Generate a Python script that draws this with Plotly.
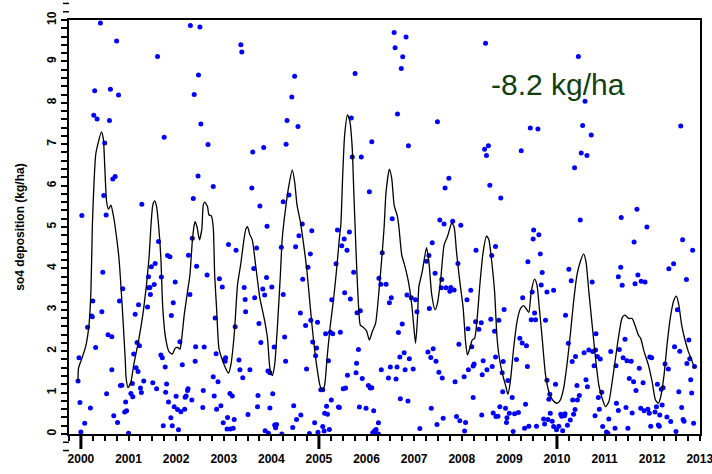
import plotly.graph_objects as go

# ---- data (decimal year, kg/ha) ----
dep_year = [
    2000.41, 2000.75, 2001.61, 2002.30, 2002.50, 2003.36, 2003.38, 2002.47, 2000.29, 2000.62,
    2000.79, 2002.38, 2000.27, 2000.34, 2000.60, 2002.52, 2001.75, 2000.50, 2002.67, 2003.61,
    2003.84, 2000.67, 2000.72, 2002.46, 2002.78, 2003.59, 2000.48, 2001.28, 2002.36, 2004.25,
    2000.02, 2000.53, 2003.76, 2003.91,
    2006.58, 2006.83, 2006.60, 2006.76, 2006.73, 2008.50, 2004.49, 2005.76, 2004.43, 2004.33,
    2004.56, 2005.68, 2006.65, 2007.49, 2004.31, 2006.11, 2006.88, 2005.70, 2005.89, 2008.48,
    2008.56, 2008.52, 2007.73, 2007.65, 2008.59, 2004.37, 2006.06, 2004.65, 2006.54, 2007.54,
    2007.63, 2007.81, 2007.98,
    2010.45, 2010.59, 2009.44, 2009.60, 2010.54, 2010.72, 2012.60, 2009.25, 2010.51, 2010.63,
    2010.37, 2008.82, 2011.68, 2011.35, 2010.49, 2011.89, 2009.51,
    2001.63, 2000.46, 2000.88, 2000.25, 2000.22, 2000.24, 2000.14, 2000.44, 2000.57, 2000.65,
    2000.31, 1999.96, 1999.94, 1999.98, 2000.20, 2000.08, 2000.00, 2000.65, 2000.54, 2000.69,
    2000.77, 2000.81, 2000.83, 2000.86, 2000.94, 2000.92, 2000.96, 2001.00, 2001.05, 2001.09,
    2001.08, 2001.11, 2001.18, 2001.23, 2001.16, 2001.20, 2001.14, 2001.21, 2001.25, 2001.27,
    2001.32, 2001.40, 2001.42, 2001.45, 2001.46, 2001.42, 2001.48, 2001.56, 2001.54, 2001.69,
    2001.68, 2001.71, 2001.77, 2001.51, 2001.59, 2001.78, 2001.80, 2001.84, 2001.96, 2002.03,
    2002.10, 2001.89, 2001.73, 2001.92, 2002.05, 2002.00, 2001.82, 2001.87, 2001.98, 2001.94,
    2001.90, 2002.08, 2002.13, 2002.18, 2002.19, 2002.21, 2002.24, 2002.25, 2002.33, 2002.29,
    2002.26, 2002.34, 2002.43, 2002.40, 2002.65, 2002.57, 2002.56, 2002.59, 2002.41, 2002.78,
    2002.82, 2002.84, 2002.88, 2002.80, 2002.85, 2002.94, 2002.91, 2002.97, 2002.99, 2003.02,
    2003.04, 2003.03, 2003.08, 2003.07, 2003.14, 2003.20, 2003.22, 2003.13, 2003.18, 2003.10,
    2003.26, 2003.24, 2003.32, 2003.34, 2003.40, 2003.43, 2003.45, 2003.46, 2003.51, 2003.55,
    2003.63, 2003.65, 2003.69, 2003.74, 2003.78, 2003.72, 2003.71, 2003.82, 2003.86, 2003.90,
    2004.01, 2003.93, 2003.97, 2003.97, 2004.03, 2004.06, 2003.87, 2003.94, 2004.07, 2004.09,
    2004.11, 2004.22, 2004.21, 2004.25,
    2004.28, 2004.30, 2004.58, 2004.51, 2004.85, 2004.82, 2004.77, 2004.66, 2004.61, 2004.72,
    2004.83, 2004.97, 2004.87, 2004.95, 2004.93, 2004.74, 2005.20, 2004.47, 2004.53, 2004.62,
    2004.45, 2004.80, 2004.91, 2004.98, 2005.08, 2005.11, 2005.22, 2005.04, 2005.08, 2005.12,
    2005.18, 2005.16, 2005.26, 2005.14, 2005.24, 2005.29, 2005.27, 2005.45, 2005.36, 2005.48,
    2005.53, 2005.59, 2005.39, 2005.64, 2005.54, 2005.66, 2005.41, 2005.43, 2005.51, 2005.56,
    2005.60, 2005.73, 2005.80, 2005.87, 2005.83, 2005.79, 2005.78, 2005.91, 2005.85, 2005.99,
    2006.04, 2006.08, 2006.11, 2006.15, 2006.25, 2006.13, 2006.17, 2006.20, 2006.25, 2006.22,
    2006.26, 2006.30, 2006.33, 2006.41, 2006.31, 2006.48, 2006.52, 2006.46, 2006.50, 2006.62,
    2006.64, 2006.67, 2006.75, 2006.70, 2006.79, 2006.81, 2006.90, 2006.98, 2006.71, 2006.87,
    2006.85, 2006.94, 2007.03, 2007.06, 2007.12, 2007.26, 2007.31, 2007.38, 2007.44, 2007.58,
    2007.57, 2007.32, 2007.67, 2007.77, 2007.75, 2007.84, 2007.29, 2007.35, 2007.40, 2007.46,
    2007.52, 2007.59, 2007.36, 2007.48, 2007.61, 2007.86, 2007.92, 2008.11, 2008.13, 2007.94,
    2008.19, 2007.89, 2007.96, 2008.08, 2008.06, 2008.05, 2008.14, 2008.24, 2008.26, 2008.24,
    2008.21, 2008.29, 2008.36, 2008.41, 2008.30, 2008.42, 2008.45, 2008.53, 2008.43, 2008.61,
    2008.69, 2008.71, 2008.64, 2008.71, 2008.63, 2008.66, 2008.72,
    2008.78, 2008.89, 2008.85, 2008.87, 2008.86, 2008.80, 2008.76, 2008.92, 2008.95, 2008.94,
    2009.00, 2008.97, 2009.06, 2009.08, 2009.11, 2009.19, 2009.15, 2009.22, 2009.27, 2009.36,
    2009.28, 2009.38, 2009.34, 2009.32, 2009.41, 2009.39, 2009.50, 2009.62, 2009.65, 2009.48,
    2009.53, 2009.46, 2009.55, 2009.69, 2009.67, 2009.76, 2009.79, 2009.93, 2009.57, 2009.72,
    2009.74, 2009.81, 2009.86, 2009.83, 2009.85, 2009.79, 2009.97, 2009.93, 2009.99, 2009.90,
    2010.04, 2010.08, 2010.10, 2010.12, 2010.16, 2010.17, 2010.22, 2010.28, 2010.35, 2010.38,
    2010.43, 2010.42, 2010.47, 2010.33, 2010.18, 2010.24, 2010.32, 2010.39, 2010.25, 2010.30,
    2010.57, 2010.67, 2010.75, 2010.81, 2010.61, 2010.64, 2010.74, 2010.82, 2010.78, 2010.85,
    2010.91, 2010.94, 2010.87, 2010.89, 2010.80, 2010.96, 2011.04, 2011.07, 2011.09, 2011.13,
    2011.22, 2011.25, 2011.29, 2011.24, 2011.31, 2011.29, 2011.34, 2011.37, 2011.43, 2011.39,
    2011.47, 2011.56, 2011.45, 2011.49, 2011.52, 2011.61, 2011.58, 2011.62, 2011.64, 2011.70,
    2011.77, 2011.85, 2011.66, 2011.73, 2011.76, 2011.83, 2011.91, 2011.94, 2011.81, 2011.95,
    2011.99, 2011.97, 2012.06, 2012.09, 2012.11, 2012.13, 2012.15, 2012.16, 2012.21, 2012.19,
    2012.23, 2012.27, 2012.34, 2012.31, 2012.39, 2012.35, 2012.45, 2012.64, 2012.53, 2012.47,
    2012.58, 2012.56, 2012.62, 2012.50, 2012.65, 2012.67, 2012.72, 2012.77, 2012.73, 2012.79,
    2012.81, 2012.83, 2012.85, 2012.89, 2012.87,
]
dep_value = [
    9.93, 9.49, 9.12, 9.87, 9.83, 9.40, 9.23, 8.67, 8.29, 8.33,
    8.19, 8.20, 7.70, 7.61, 7.57, 7.49, 7.17, 7.03, 6.99, 6.81,
    6.92, 6.16, 6.22, 6.23, 5.98, 5.94, 5.76, 5.55, 5.69, 5.61,
    5.28, 5.29, 5.51, 5.02,
    9.70, 9.59, 9.33, 9.11, 8.83, 9.44, 8.64, 8.71, 8.14, 7.57,
    7.43, 7.63, 7.73, 7.54, 7.00, 7.06, 6.96, 6.69, 6.69, 6.88,
    6.96, 6.73, 6.18, 5.94, 6.01, 5.77, 5.85, 5.07, 5.20, 5.17,
    5.07, 5.14, 5.04,
    9.12, 8.04, 7.39, 7.37, 7.45, 7.22, 7.44, 6.84, 6.79, 6.73,
    6.43, 5.70, 5.43, 5.23, 5.17, 5.00, 4.93,
    4.65, 3.91, 3.51, 3.21, 2.85, 2.83, 2.58, 2.95, 2.40, 2.35,
    2.09, 1.84, 1.28, 0.76, 0.63, 0.26, 0.05, 1.55, 0.97, 0.44,
    0.28, 3.21, 1.17, 1.18, 0.77, 0.53, 0.56, 0.02, 0.98, 0.90,
    1.22, 1.93, 2.21, 2.13, 1.60, 1.51, 2.89, 3.12, 1.11, 1.00,
    1.28, 3.07, 3.53, 3.54, 3.37, 3.80, 4.04, 4.12, 3.61, 3.79,
    1.91, 1.84, 1.62, 1.24, 1.09, 1.01, 1.21, 0.77, 0.66, 0.59,
    0.54, 0.39, 0.20, 0.20, 0.10, 0.91, 4.31, 4.28, 3.67, 3.17,
    2.86, 2.23, 1.67, 0.60, 0.89, 0.92, 1.05, 1.09, 0.82, 3.37,
    4.32, 4.73, 4.05, 1.76, 3.84, 1.05, 0.64, 2.10, 2.11, 1.38,
    2.80, 1.94, 1.26, 0.92, 0.60, 0.68, 3.75, 3.55, 0.27, 1.80,
    1.84, 1.76, 0.40, 0.12, 0.12, 0.14, 0.35, 0.98, 0.92, 4.58,
    4.44, 2.59, 1.79, 1.55, 1.36, 3.54, 3.25, 2.95, 0.47, 1.55,
    4.00, 3.29, 4.49, 2.67, 2.21, 0.93, 0.66, 3.50, 3.36, 3.78,
    3.55, 1.52, 1.48, 0.63, 0.97, 2.10, 0.08, 0.02, 0.22, 0.15,
    0.23, 0.00, 4.51, 3.37,
    2.34, 1.76, 4.79, 4.52, 4.91, 4.35, 4.03, 3.74, 2.92, 2.62,
    2.75, 2.70, 2.22, 2.08, 1.89, 1.57, 1.77, 0.68, 0.35, 0.46,
    0.16, 0.01, 0.27, 0.04, 0.18, 0.07, 0.11, 1.07, 1.07, 0.50,
    0.48, 0.67, 0.82, 2.42, 2.46, 2.42, 3.24, 2.46, 4.11, 4.55,
    4.71, 4.44, 4.93, 4.88, 3.41, 3.26, 0.65, 0.64, 1.09, 1.11,
    1.42, 3.91, 2.93, 2.98, 2.04, 1.71, 1.48, 1.34, 0.65, 0.62,
    1.17, 1.11, 1.12, 0.56, 0.27, 0.03, 0.08, 0.11, 0.00, 0.00,
    3.76, 3.62, 4.38, 3.62, 1.55, 3.17, 3.29, 1.35, 1.62, 1.33,
    1.62, 2.45, 2.66, 1.86, 1.96, 1.55, 1.82, 1.57, 0.85, 0.80,
    3.36, 3.29, 3.24, 2.95, 0.13, 4.17, 4.31, 4.62, 3.88, 3.73,
    3.53, 3.03, 3.53, 3.54, 3.45, 3.48, 1.98, 1.85, 2.06, 1.76,
    1.49, 1.35, 0.62, 0.23, 0.38, 1.26, 4.12, 3.24, 2.54, 2.17,
    3.47, 0.42, 0.32, 0.28, 0.07, 1.38, 1.55, 1.64, 1.69, 0.88,
    2.11, 2.71, 2.53, 2.69, 4.44, 0.46, 1.77, 1.55, 1.43, 2.77,
    2.48, 1.86, 1.63, 4.53, 4.31, 0.51, 0.42,
    2.75, 3.01, 1.48, 1.75, 1.02, 0.66, 0.43, 0.62, 0.39, 0.28,
    0.50, 1.29, 0.88, 0.06, 0.49, 0.52, 1.80, 2.31, 2.20, 2.13,
    3.29, 1.63, 0.72, 0.14, 0.19, 4.16, 4.71, 4.81, 4.35, 3.43,
    2.92, 2.76, 2.76, 3.90, 3.60, 2.75, 3.43, 3.47, 0.19, 0.36,
    0.24, 0.35, 0.50, 0.84, 0.96, 1.30, 1.20, 0.18, 0.10, 0.31,
    0.19, 0.48, 0.43, 0.08, 0.44, 0.49, 0.21, 0.34, 0.48, 0.59,
    0.82, 1.17, 0.93, 0.82, 2.87, 2.19, 1.75, 1.87, 3.98, 3.70,
    1.96, 2.03, 1.99, 2.03, 1.31, 1.14, 3.67, 2.42, 1.65, 1.87,
    1.81, 1.01, 0.88, 0.60, 0.44, 0.18, 0.05, 0.02, 0.36, 1.99,
    0.14, 0.74, 0.57, 1.65, 2.04, 3.80, 4.03, 3.59, 2.29, 1.84,
    1.77, 1.76, 0.64, 0.14, 1.34, 1.26, 0.51, 4.64, 3.63, 3.84,
    3.69, 3.67, 1.05, 1.59, 0.62, 0.56, 0.60, 0.50, 1.24, 1.86,
    1.84, 0.19, 0.53, 0.66, 1.20, 0.22, 0.19, 0.46, 0.70, 1.08,
    1.12, 1.69, 1.57, 0.41, 0.30, 3.99, 4.11, 4.69, 3.00, 2.11,
    2.00, 1.02, 0.64, 0.06, 0.35, 0.31, 3.73, 2.27, 1.70, 1.82,
    1.31, 0.99, 4.44, 1.63, 0.26,
]

smooth_year = [
    1999.94, 1999.95, 2000.01, 2000.10, 2000.17, 2000.21, 2000.24, 2000.27, 2000.31, 2000.36,
    2000.43, 2000.47, 2000.50, 2000.54, 2000.58, 2000.63, 2000.68, 2000.72, 2000.80, 2000.87,
    2000.93, 2000.95, 2000.99, 2001.05, 2001.11, 2001.22, 2001.32, 2001.43, 2001.47, 2001.51,
    2001.55, 2001.59, 2001.635, 2001.68, 2001.72, 2001.78, 2001.85, 2001.92, 2001.98, 2002.03,
    2002.08, 2002.11, 2002.17, 2002.24, 2002.29, 2002.34, 2002.38, 2002.40, 2002.44, 2002.49,
    2002.54, 2002.57, 2002.60, 2002.66, 2002.69, 2002.74, 2002.78, 2002.81, 2002.85, 2002.90,
    2002.97, 2003.04, 2003.10, 2003.15, 2003.22, 2003.29, 2003.36, 2003.41, 2003.46, 2003.50,
    2003.55, 2003.60, 2003.67, 2003.76, 2003.85, 2003.92, 2003.97, 2004.02, 2004.07, 2004.13,
    2004.19, 2004.23, 2004.30, 2004.37, 2004.44, 2004.49, 2004.54, 2004.61, 2004.68, 2004.75,
    2004.82, 2004.89, 2004.96, 2005.02, 2005.07, 2005.12, 2005.17, 2005.24, 2005.31, 2005.38,
    2005.43, 2005.46, 2005.50, 2005.54, 2005.60, 2005.65, 2005.70, 2005.73, 2005.76, 2005.80,
    2005.84, 2005.87, 2005.94, 2006.00, 2006.06, 2006.12, 2006.19, 2006.26, 2006.32, 2006.37,
    2006.41, 2006.48, 2006.53, 2006.58, 2006.65, 2006.68, 2006.74, 2006.80, 2006.88, 2006.95,
    2006.99, 2007.03, 2007.07, 2007.10, 2007.17, 2007.26, 2007.31, 2007.37, 2007.44, 2007.49,
    2007.56, 2007.63, 2007.70, 2007.75, 2007.79, 2007.84, 2007.89, 2007.96, 2008.03, 2008.08,
    2008.12, 2008.17, 2008.22, 2008.27, 2008.33, 2008.38, 2008.45, 2008.52, 2008.57, 2008.63,
    2008.69, 2008.74, 2008.79, 2008.86, 2008.92, 2008.97, 2009.02, 2009.09, 2009.16, 2009.23,
    2009.30, 2009.37, 2009.41, 2009.46, 2009.53, 2009.58, 2009.63, 2009.69, 2009.76, 2009.83,
    2009.91, 2010.00, 2010.07, 2010.14, 2010.21, 2010.28, 2010.35, 2010.42, 2010.49, 2010.56,
    2010.61, 2010.67, 2010.74, 2010.81, 2010.88, 2010.95, 2011.02, 2011.09, 2011.16, 2011.23,
    2011.30, 2011.37, 2011.43, 2011.51, 2011.58, 2011.65, 2011.71, 2011.76, 2011.83, 2011.92,
    2012.00, 2012.07, 2012.13, 2012.18, 2012.25, 2012.32, 2012.39, 2012.46, 2012.51, 2012.56,
    2012.62, 2012.69, 2012.76, 2012.83, 2012.89,
]
smooth_value = [
    1.28, 1.59, 1.79, 2.11, 2.63, 3.44, 5.00, 5.93, 6.74, 7.02,
    7.30, 7.14, 6.50, 5.61, 5.43, 5.53, 5.29, 5.00, 4.24, 3.04,
    1.83, 1.35, 1.12, 1.26, 1.67, 2.31, 3.04, 4.24, 5.00, 5.53,
    5.63, 5.49, 5.00, 4.24, 3.04, 2.31, 1.99, 1.93, 2.07, 2.09,
    2.05, 2.23, 2.87, 3.44, 3.84, 4.65, 5.05, 5.13, 5.00, 4.69,
    4.95, 5.53, 5.60, 5.49, 5.29, 5.27, 5.00, 3.84, 3.04, 2.07,
    1.79, 1.59, 1.47, 1.67, 2.39, 3.60, 4.12, 4.57, 4.93, 5.01,
    4.81, 4.69, 4.08, 3.28, 2.79, 2.31, 1.59, 1.41, 1.67, 2.63,
    3.84, 4.73, 5.45, 6.01, 6.38, 6.09, 5.53, 5.13, 4.57, 3.92,
    3.04, 2.23, 1.59, 1.18, 1.05, 1.18, 1.83, 2.63, 3.28, 4.08,
    4.73, 5.05, 6.26, 7.22, 7.71, 7.55, 6.90, 5.93, 5.00, 3.84,
    2.95, 2.63, 2.57, 2.49, 2.27, 2.47, 2.67, 3.44, 4.24, 5.00,
    5.85, 6.40, 6.17, 5.53, 5.25, 5.00, 4.32, 4.08, 3.68, 3.12,
    2.63, 2.19, 2.79, 3.56, 3.92, 4.50, 4.16, 3.36, 3.00, 3.16,
    3.76, 4.57, 4.77, 4.97, 5.10, 5.00, 4.40, 3.68, 3.04, 2.23,
    1.91, 2.07, 2.27, 2.31, 2.87, 3.60, 4.40, 4.78, 4.69, 4.16,
    3.44, 2.35, 1.83, 1.43, 1.18, 0.96, 1.26, 2.07, 2.71, 3.02,
    3.10, 3.00, 2.94, 3.44, 3.74, 3.60, 3.04, 2.31, 1.43, 1.02,
    0.82, 0.74, 0.82, 1.10, 1.67, 2.39, 3.20, 3.84, 4.16, 4.35,
    4.16, 3.44, 2.63, 1.83, 1.18, 0.86, 0.66, 0.78, 1.26, 1.83,
    2.39, 2.81, 2.87, 2.79, 2.79, 2.59, 2.39, 2.31, 1.99, 1.67,
    1.26, 0.82, 0.74, 0.90, 1.43, 2.23, 2.87, 3.24, 3.33, 3.12,
    2.63, 2.27, 1.99, 1.79, 1.59,
]

year_ticks = list(range(2000, 2014))
thick_years = [2000, 2005, 2010]
stub_levels = [-0.2, -0.4, 10.2, 10.4]
trend_text = "-8.2 kg/ha"
y_title = "so4 deposition (kg/ha)"

X_RANGE = [1999.75, 2013.005]
Y_RANGE = [0, 10]
W, H = 712, 474
ML, MR, MT, MB = 69, 12, 20, 40
plot_w = W - ML - MR
plot_h = H - MT - MB

font_family = "Liberation Sans, Arial, sans-serif"

fig = go.Figure()
fig.add_trace(go.Scatter(
    x=dep_year, y=dep_value, mode="markers",
    marker=dict(color="#0000ff", size=5, line=dict(width=0)),
    showlegend=False, hoverinfo="x+y",
))
fig.add_trace(go.Scatter(
    x=smooth_year, y=smooth_value, mode="lines",
    line=dict(color="black", width=1.3, shape="spline", smoothing=0.6),
    showlegend=False, hoverinfo="skip",
))

shapes = []
for yr in thick_years:
    shapes.append(dict(type="line", xref="x", yref="paper", x0=yr, x1=yr,
                       y0=0, y1=-15 / plot_h, line=dict(color="black", width=3)))
for lv in stub_levels:
    py = (lv - Y_RANGE[0]) / (Y_RANGE[1] - Y_RANGE[0])
    shapes.append(dict(type="line", xref="paper", yref="paper", x0=-6 / plot_w, x1=0,
                       y0=py, y1=py, line=dict(color="black", width=1.5)))

fig.update_layout(
    width=W, height=H,
    margin=dict(l=ML, r=MR, t=MT, b=MB, autoexpand=False),
    paper_bgcolor="white", plot_bgcolor="white",
    font=dict(family=font_family, color="black"),
    shapes=shapes,
    annotations=[dict(
        x=2010.03, y=8.45, xref="x", yref="y", text=trend_text, showarrow=False,
        font=dict(family=font_family, size=30, color="#123f12"),
        xanchor="center", yanchor="middle",
    )],
)
fig.update_xaxes(
    range=X_RANGE, tickmode="array", tickvals=year_ticks,
    ticktext=[str(y) for y in year_ticks],
    ticks="outside", ticklen=5, tickwidth=1.5, tickcolor="black",
    ticklabelstandoff=8, ticklabeloverflow="allow",
    tickfont=dict(family=font_family, size=12, color="black", weight="bold"),
    showline=True, linecolor="black", linewidth=2, mirror=True,
    showgrid=False, zeroline=False,
    minor=dict(tickmode="linear", tick0=2000, dtick=0.25, ticks="outside",
               ticklen=5, tickwidth=1.5, tickcolor="black", showgrid=False),
)
fig.update_yaxes(
    range=Y_RANGE, tickmode="linear", tick0=0, dtick=1,
    ticks="outside", ticklen=6, tickwidth=1.5, tickcolor="black",
    tickangle=-90,
    tickfont=dict(family=font_family, size=12, color="black", weight="bold"),
    showline=True, linecolor="black", linewidth=2, mirror=True,
    showgrid=False, zeroline=False,
    minor=dict(tickmode="linear", tick0=0, dtick=0.2, ticks="outside",
               ticklen=6, tickwidth=1.5, tickcolor="black", showgrid=False),
    title=dict(text=y_title, standoff=18,
               font=dict(family=font_family, size=12, color="black", weight="bold")),
)

# remove the default page margin so the 712x474 figure fills the window exactly
page_css = ("document.body.style.margin='0';"
            "document.body.style.padding='0';"
            "document.documentElement.style.overflow='hidden';")
fig.write_html("out.html", post_script=page_css,
               config={"displayModeBar": False, "staticPlot": False})
